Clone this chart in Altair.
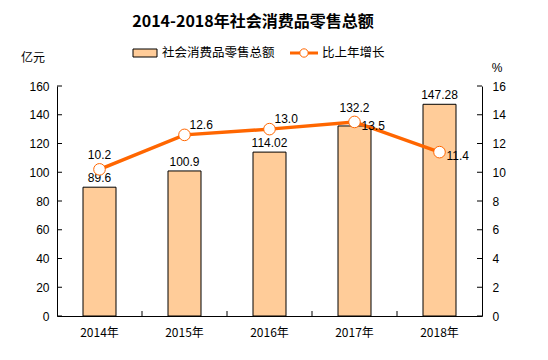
import altair as alt
import pandas as pd

years = ["2014年", "2015年", "2016年", "2017年", "2018年"]
sales = [89.6, 100.9, 114.02, 132.2, 147.28]
sales_labels = ["89.6", "100.9", "114.02", "132.2", "147.28"]
growth = [10.2, 12.6, 13.0, 13.5, 11.4]
growth_labels = ["10.2", "12.6", "13.0", "13.5", "11.4"]
left_ticks = [0, 20, 40, 60, 80, 100, 120, 140, 160]
right_ticks = [0, 2, 4, 6, 8, 10, 12, 14, 16]

W, H = 425, 230
FONT = "Noto Sans CJK SC"
NUMFONT = "Liberation Sans"
BAR = "#FFCC99"
LINE = "#FF6600"

df = pd.DataFrame({"year": years, "sales": sales, "slab": sales_labels,
                   "growth": growth, "glab": growth_labels})
lt = pd.DataFrame({"v": left_ticks})
rt = pd.DataFrame({"v": right_ticks})
xt = pd.DataFrame({"year": years[1:]})

xaxis = alt.Axis(title=None, labelAngle=0, ticks=False, labelPadding=11,
                 labelFontSize=12, labelFont=FONT, labelColor="#000",
                 domainColor="#000", labelOverlap=False)
xscale = alt.Scale(domain=years, paddingInner=0, paddingOuter=0)
xn = alt.X("year:N", scale=xscale, sort=years, axis=xaxis)
lscale = alt.Scale(domain=[0, 160], nice=False, zero=True)
rscale = alt.Scale(domain=[0, 16], nice=False, zero=True)
laxis = alt.Axis(orient="left", title=None, values=left_ticks, ticks=False,
                 grid=False, labelPadding=8, labelFontSize=12, labelFont=NUMFONT,
                 labelColor="#000", domainColor="#000", labelOverlap=False,
                 labelFlush=False)
raxis = alt.Axis(orient="right", title=None, values=right_ticks, ticks=False,
                 grid=False, labelPadding=10, labelFontSize=12, labelFont=NUMFONT,
                 labelColor="#000", domainColor="#000", labelOverlap=False,
                 labelFlush=False)

bars = alt.Chart(df).mark_bar(size=33, color=BAR, stroke="#000", strokeWidth=1).encode(
    x=xn, y=alt.Y("sales:Q", scale=lscale, axis=laxis))
blab_base = alt.Chart(df).encode(x=xn, y=alt.Y("sales:Q", scale=lscale, axis=laxis),
                                 text="slab:N")
blab = blab_base.mark_text(dy=-9, fontSize=12, font=NUMFONT, color="#000").transform_filter(
    alt.datum.year != "2017年")
blab2 = blab_base.mark_text(dy=-18, fontSize=12, font=NUMFONT, color="#000").transform_filter(
    alt.datum.year == "2017年")
lt_marks = alt.Chart(lt).mark_rule(color="#000").encode(
    y=alt.Y("v:Q", scale=lscale, axis=laxis), x=alt.value(0), x2=alt.value(5))
xt_marks = alt.Chart(xt).mark_rule(color="#000").encode(
    x=alt.X("year:N", scale=xscale, sort=years, bandPosition=0, axis=xaxis),
    y=alt.value(H - 5), y2=alt.value(H))

left = alt.layer(bars, blab, blab2, lt_marks, xt_marks)

line = alt.Chart(df).mark_line(color=LINE, strokeWidth=3.5).encode(
    x=xn, y=alt.Y("growth:Q", scale=rscale, axis=raxis))
pts = alt.Chart(df).mark_point(shape="circle", size=135, filled=True, fill="white",
                               stroke=LINE, strokeWidth=1, opacity=1).encode(
    x=xn, y=alt.Y("growth:Q", scale=rscale, axis=raxis))
glab_base = alt.Chart(df).encode(x=xn, y=alt.Y("growth:Q", scale=rscale, axis=raxis),
                                 text="glab:N")
g1 = glab_base.mark_text(dy=-14, fontSize=12, font=NUMFONT, color="#000").transform_filter(
    alt.datum.year == "2014年")
g2 = glab_base.mark_text(dx=5, dy=-10, align="left", fontSize=12, font=NUMFONT,
                         color="#000").transform_filter(
    (alt.datum.year == "2015年") | (alt.datum.year == "2016年"))
g3 = glab_base.mark_text(dx=7, dy=4, align="left", fontSize=12, font=NUMFONT,
                         color="#000").transform_filter(
    (alt.datum.year == "2017年") | (alt.datum.year == "2018年"))
rt_marks = alt.Chart(rt).mark_rule(color="#000").encode(
    y=alt.Y("v:Q", scale=rscale, axis=raxis), x=alt.value(W - 5), x2=alt.value(W))

right = alt.layer(line, pts, g1, g2, g3, rt_marks)

one = pd.DataFrame({"a": [0]})
title = alt.Chart(one).mark_text(text="2014-2018年社会消费品零售总额", fontSize=16,
                                 fontWeight="bold", font=FONT, color="#000",
                                 baseline="middle").encode(
    x=alt.value(196), y=alt.value(-64))
leg_rect = alt.Chart(one).mark_rect(color=BAR, stroke="#000", strokeWidth=1).encode(
    x=alt.value(76), x2=alt.value(100), y=alt.value(-37), y2=alt.value(-29))
leg_t1 = alt.Chart(one).mark_text(text="社会消费品零售总额", align="left", fontSize=12.5,
                                  font=FONT, color="#000").encode(
    x=alt.value(105), y=alt.value(-33))
leg_line = alt.Chart(one).mark_rule(color=LINE, strokeWidth=3).encode(
    x=alt.value(233), x2=alt.value(261), y=alt.value(-33))
leg_pt = alt.Chart(one).mark_point(shape="circle", size=70, filled=True, fill="white",
                                   stroke=LINE, strokeWidth=1, opacity=1).encode(
    x=alt.value(247), y=alt.value(-33))
leg_t2 = alt.Chart(one).mark_text(text="比上年增长", align="left", fontSize=12.5,
                                  font=FONT, color="#000").encode(
    x=alt.value(265), y=alt.value(-33))
unit_l = alt.Chart(one).mark_text(text="亿元", fontSize=12, font=FONT, color="#000").encode(
    x=alt.value(-24), y=alt.value(-28))
unit_r = alt.Chart(one).mark_text(text="%", fontSize=12, font=NUMFONT, color="#000").encode(
    x=alt.value(440), y=alt.value(-18))

chart = alt.layer(left, right, title, leg_rect, leg_t1, leg_line, leg_pt, leg_t2,
                  unit_l, unit_r).resolve_scale(y="independent").properties(
    width=W, height=H,
    autosize=alt.AutoSizeParams(type="none"),
    padding={"left": 49, "top": 78, "right": 58, "bottom": 36},
).configure_view(stroke=None).configure_axis(domainWidth=1, labelOverlap=False)

chart.save("out.html", embed_options={"renderer": "svg", "actions": False})
